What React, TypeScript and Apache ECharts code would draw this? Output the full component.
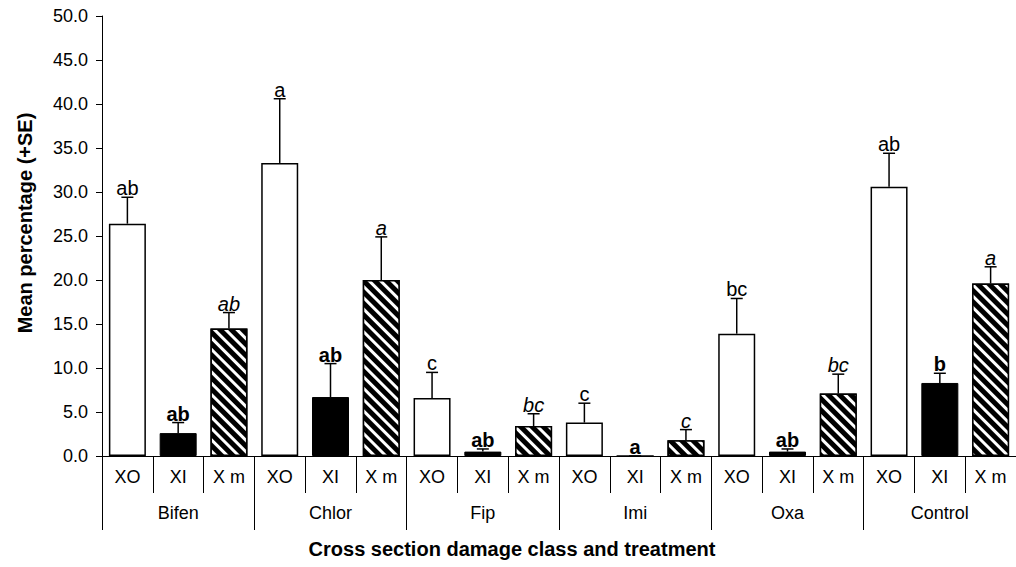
import React, { useEffect, useRef } from "react";
import * as echarts from "echarts";

const groups = ["Bifen", "Chlor", "Fip", "Imi", "Oxa", "Control"];
const classes = ["XO", "XI", "X m"];
const categories = groups.flatMap(() => classes);

// mean values per group: [XO, XI, X m]
const meanXO = [26.4, 33.3, 6.6, 3.8, 13.9, 30.6];
const meanXI = [2.6, 6.7, 0.5, 0.0, 0.5, 8.3];
const meanXm = [14.5, 20.0, 3.4, 1.8, 7.1, 19.6];
// mean + SE (top of error bar)
const topXO = [29.4, 40.6, 9.5, 6.0, 17.9, 34.4];
const topXI = [3.8, 10.5, 0.8, 0.0, 0.8, 9.4];
const topXm = [16.3, 24.9, 4.8, 3.0, 9.3, 21.5];
// significance letters
const letXO = ["ab", "a", "c", "c", "bc", "ab"];
const letXI = ["ab", "ab", "ab", "a", "ab", "b"];
const letXm = ["ab", "a", "bc", "c", "bc", "a"];

const yTicks = { min: 0, max: 50, interval: 5 };

const FONT = "'Liberation Sans', Arial, Helvetica, sans-serif";

export default function App() {
  const ref = useRef<HTMLDivElement>(null);
  useEffect(() => {
    document.body.style.margin = "0";
    const chart = echarts.init(ref.current!, null, { renderer: "svg" });

    const means: number[] = [];
    const tops: number[] = [];
    const letters: string[] = [];
    const kinds: number[] = [];
    groups.forEach((_, g) => {
      means.push(meanXO[g], meanXI[g], meanXm[g]);
      tops.push(topXO[g], topXI[g], topXm[g]);
      letters.push(letXO[g], letXI[g], letXm[g]);
      kinds.push(0, 1, 2);
    });

    const barData = means.map((v, i) => {
      const k = kinds[i];
      if (k === 0)
        return { value: v, itemStyle: { color: "#fff", borderColor: "#000", borderWidth: 1.5 } };
      if (k === 1)
        return { value: v, itemStyle: { color: "#000", borderColor: "#000", borderWidth: 1 } };
      return {
        value: v,
        itemStyle: {
          color: "#000",
          borderColor: "#000",
          borderWidth: 1.5,
          decal: {
            symbol: "rect",
            symbolSize: 1,
            dashArrayX: [1, 0],
            dashArrayY: [2.5, 4.5],
            rotation: Math.PI / 4,
            color: "#fff",
            backgroundColor: "#000",
          },
        },
      };
    });

    const errData = means.map((v, i) => [i, v, tops[i]]);

    const option: any = {
      animation: false,
      backgroundColor: "#fff",
      grid: { left: 102, top: 16, height: 440, width: 918, containLabel: false },
      xAxis: [
        {
          type: "category",
          data: categories,
          position: "bottom",
          axisLine: { show: true, lineStyle: { color: "#000", width: 1 } },
          axisTick: { show: true, interval: 0, length: 37, alignWithLabel: false, lineStyle: { color: "#000" } },
          axisLabel: { interval: 0, margin: 12, color: "#000", fontSize: 18, fontFamily: FONT },
          splitLine: { show: false },
        },
        {
          type: "category",
          data: groups,
          position: "bottom",
          axisLine: { show: false },
          axisTick: { show: true, interval: 0, length: 74, alignWithLabel: false, lineStyle: { color: "#000" } },
          axisLabel: { interval: 0, margin: 48, color: "#000", fontSize: 18, fontFamily: FONT },
          splitLine: { show: false },
        },
      ],
      yAxis: {
        type: "value",
        min: yTicks.min,
        max: yTicks.max,
        interval: yTicks.interval,
        axisLine: { show: true, lineStyle: { color: "#000", width: 1 } },
        axisTick: { show: true, length: 6, lineStyle: { color: "#000" } },
        axisLabel: {
          margin: 14,
          color: "#000",
          fontSize: 18,
          fontFamily: FONT,
          formatter: (v: number) => v.toFixed(1),
        },
        splitLine: { show: false },
      },
      series: [
        {
          type: "bar",
          xAxisIndex: 0,
          barWidth: 37,
          data: barData,
          z: 2,
        },
        {
          type: "custom",
          xAxisIndex: 0,
          z: 3,
          data: errData,
          renderItem: (params: any, api: any) => {
            const i = params.dataIndex;
            const p0 = api.coord([api.value(0), api.value(1)]);
            const p1 = api.coord([api.value(0), api.value(2)]);
            const x = p0[0];
            const k = kinds[i];
            const font =
              k === 1 ? `bold 20px ${FONT}` : k === 2 ? `italic 20px ${FONT}` : `20px ${FONT}`;
            const children: any[] = [
              {
                type: "line",
                shape: { x1: x, y1: p0[1], x2: x, y2: p1[1] },
                style: { stroke: "#000", lineWidth: 1.5 },
              },
              {
                type: "line",
                shape: { x1: x - 6, y1: p1[1], x2: x + 6, y2: p1[1] },
                style: { stroke: "#000", lineWidth: 1.5 },
              },
              {
                type: "text",
                x: x,
                y: p1[1] + 1,
                style: {
                  text: letters[i],
                  font,
                  fill: "#000",
                  align: "center",
                  verticalAlign: "bottom",
                },
              },
            ];
            return { type: "group", children };
          },
        },
      ],
      graphic: [
        {
          type: "text",
          x: 25,
          y: 223,
          rotation: Math.PI / 2,
          style: {
            text: "Mean percentage (+SE)",
            font: `bold 20px ${FONT}`,
            fill: "#000",
            align: "center",
            verticalAlign: "middle",
          },
        },
        {
          type: "text",
          x: 512,
          y: 549,
          style: {
            text: "Cross section damage class and treatment",
            font: `bold 20px ${FONT}`,
            fill: "#000",
            align: "center",
            verticalAlign: "middle",
          },
        },
      ],
    };
    chart.setOption(option);
    return () => chart.dispose();
  }, []);
  return (
    <div
      ref={ref}
      style={{ position: "absolute", left: 0, top: 0, width: 1016, height: 567 }}
    />
  );
}
